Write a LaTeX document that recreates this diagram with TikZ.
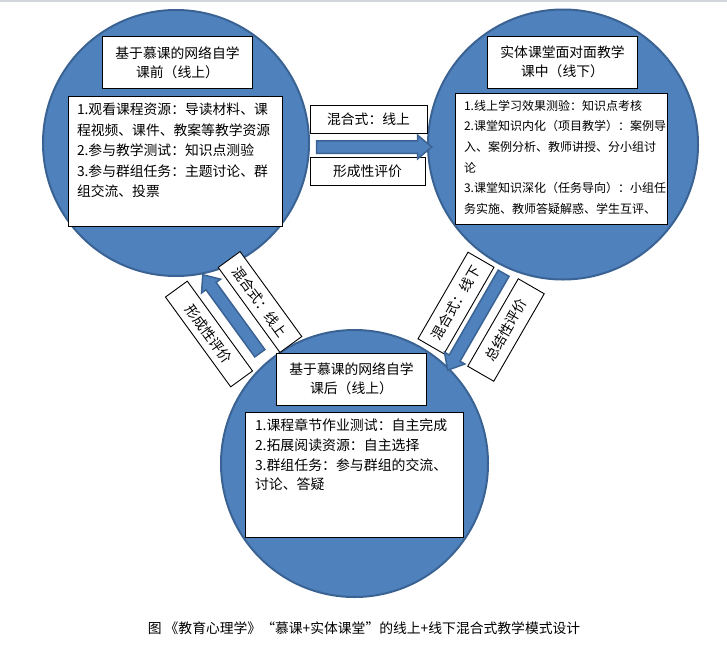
\documentclass[tikz,border=0pt]{standalone}
\usepackage{fontspec}
\setmainfont{Noto Sans CJK SC}
\usetikzlibrary{shapes.arrows}
\usepackage{xcolor}
\definecolor{moocblue}{HTML}{4F81BD}
\definecolor{moocline}{HTML}{3A6394}
\definecolor{pagegray}{HTML}{D3D6DA}

\begin{document}
\begin{tikzpicture}[
    x=1pt, y=-1pt,
    every node/.style={font=\fontsize{13.8pt}{19pt}\selectfont},
    phase/.style={circle, draw=moocline, line width=2pt, fill=moocblue,
                  minimum size=#1},
    titlebox/.style={draw, fill=white, line width=0.9pt, minimum width=150pt,
                     minimum height=52pt, align=center},
    listbox/.style={draw, fill=white, line width=0.9pt, inner xsep=#1,
                    inner ysep=7pt},
    tagbox/.style={draw, fill=white, line width=0.9pt, minimum height=28pt,
                   minimum width=#1, inner sep=0pt},
    blockarrow/.style={single arrow, draw=moocline, fill=moocblue,
                       line width=1.5pt, minimum height=#1,
                       text height=0pt, text depth=0pt, text width=0pt,
                       inner xsep=0pt, inner ysep=5.5pt,
                       single arrow head extend=5.5pt,
                       single arrow tip angle=80},
  ]
  \useasboundingbox (0,0) rectangle (727,656);
  \draw[pagegray, line width=1.5pt] (0,1) -- (727,1);

  % Phase circles
  \node[phase=266pt] (pre)  at (176,143)     {};
  \node[phase=270pt] (mid)  at (563,144.5)   {};
  \node[phase=267pt] (post) at (354.5,463.5) {};

  % Titles
  \node[titlebox] (pretitle)  at (177.5,62.5) {基于慕课的网络自学\\课前（线上）};
  \node[titlebox] (midtitle)  at (562.5,62)   {实体课堂面对面教学\\课中（线下）};
  \node[titlebox] (posttitle) at (351.5,379)  {基于慕课的网络自学\\课后（线上）};

  % Task lists
  \node[listbox=9pt] (prelist) at (175,161)
    {\parbox[t][116pt][t]{196pt}{\fontsize{13.8pt}{20.6pt}\selectfont
      1.观看课程资源：导读材料、课\\
      程视频、课件、教案等教学资源\\
      2.参与教学测试：知识点测验\\
      3.参与群组任务：主题讨论、群\\
      组交流、投票}};
  \node[listbox=9pt] (midlist) at (561,158.5)
    {\parbox[t][117pt][t]{194pt}{\fontsize{12pt}{20.7pt}\selectfont
      1.线上学习效果测验：知识点考核\\
      2.课堂知识内化（项目教学）：案例导\\
      入、案例分析、教师讲授、分小组讨\\
      论\\
      3.课堂知识深化（任务导向）：小组任\\
      务实施、教师答疑解惑、学生互评、}};
  \node[listbox=10pt] (postlist) at (354,474.5)
    {\parbox[t][111pt][t]{198pt}{\fontsize{13.9pt}{19.7pt}\selectfont
      1.课程章节作业测试：自主完成\\
      2.拓展阅读资源：自主选择\\
      3.群组任务：参与群组的交流、\\
      讨论、答疑}};

  % Mode and assessment tags
  \node[tagbox=117pt] (onlinetag) at (368.5,119) {混合式：线上};
  \node[tagbox=115pt] (formtag)   at (367.5,171) {形成性评价};
  \node[tagbox=105pt, minimum height=27pt, rotate=-54] (backtag)  at (260,302) {混合式：线上};
  \node[tagbox=111pt, minimum height=27pt, rotate=-54] (backform) at (209,334) {形成性评价};
  \node[tagbox=100pt, minimum height=30pt, rotate=60] (offlinetag) at (456,303) {混合式：线下};
  \node[tagbox=101pt, minimum height=30pt, rotate=60] (sumtag)     at (506,330) {总结性评价};

  % Block arrows
  \node[blockarrow=115pt] (toclass) at (370.5,147) {};
  \node[blockarrow=112pt, rotate=240] (toafter) at (477.5,318.5) {};
  \node[blockarrow=97pt, rotate=126] (toprev) at (233.5,317) {};

  % Caption
  \node[font=\fontsize{13.8pt}{16pt}\selectfont] (caption) at (364,628)
    {图 《教育心理学》“慕课+实体课堂”的线上+线下混合式教学模式设计};
\end{tikzpicture}
\end{document}
